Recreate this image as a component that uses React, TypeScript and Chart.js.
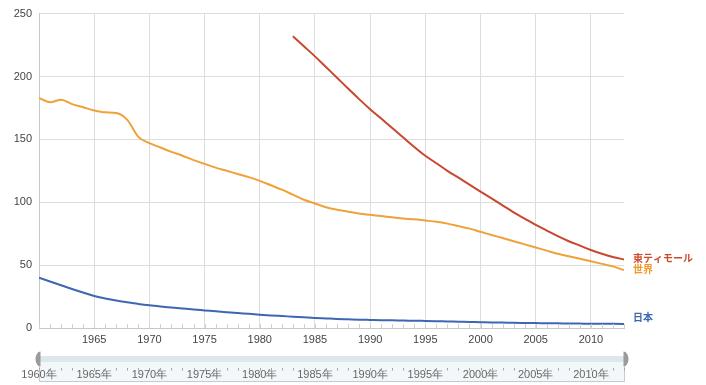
import { useEffect, useRef } from "react";
import { Chart, registerables } from "chart.js";

Chart.register(...registerables);

const years = [
  1960, 1961, 1962, 1963, 1964, 1965, 1966, 1967, 1968, 1969,
  1970, 1971, 1972, 1973, 1974, 1975, 1976, 1977, 1978, 1979,
  1980, 1981, 1982, 1983, 1984, 1985, 1986, 1987, 1988, 1989,
  1990, 1991, 1992, 1993, 1994, 1995, 1996, 1997, 1998, 1999,
  2000, 2001, 2002, 2003, 2004, 2005, 2006, 2007, 2008, 2009,
  2010, 2011, 2012, 2013,
];

const timorLeste = [
  null, null, null, null, null, null, null, null, null, null,
  null, null, null, null, null, null, null, null, null, null,
  null, null, null, 232, 224, 216, 207.5, 199, 190.5, 182,
  174, 166.5, 159, 151.5, 144, 137, 131, 125, 119.5, 114,
  108.5, 103, 97.5, 92, 87, 82, 77.5, 73, 69, 65.5,
  62, 59, 56.5, 54.5,
];

const world = [
  183, 179.5, 181.5, 178, 175.5, 173, 171.5, 171, 165.5, 152,
  147, 143.5, 140, 137, 133.5, 130.5, 127.5, 125, 122.5, 120,
  117, 113.5, 110, 106, 102, 99, 96, 94, 92.5, 91,
  90, 89, 88, 87, 86.5, 85.5, 84.5, 83, 81, 79,
  76.5, 74, 71.5, 69, 66.5, 64, 61.5, 59, 57, 55,
  53, 51, 49, 46,
];

const japan = [
  40, 37, 34, 31, 28.2, 25.5, 23.5, 21.8, 20.4, 19.1,
  18, 17.1, 16.3, 15.5, 14.7, 14, 13.3, 12.6, 11.9, 11.3,
  10.6, 10, 9.5, 9, 8.5, 8, 7.6, 7.2, 6.9, 6.6,
  6.4, 6.2, 6.1, 5.9, 5.8, 5.6, 5.4, 5.2, 5, 4.8,
  4.6, 4.4, 4.3, 4.1, 4, 3.9, 3.8, 3.7, 3.6, 3.5,
  3.4, 3.4, 3.3, 3.2,
];

const seriesNames = ["東ティモール", "世界", "日本"];
const lineColors = ["#c9472f", "#efa13a", "#3e66b3"];
const labelColors = ["#cf4a2c", "#f09a28", "#3d66b3"];
const xTickValues = [1965, 1970, 1975, 1980, 1985, 1990, 1995, 2000, 2005, 2010];
const sliderLabels = [1960, 1965, 1970, 1975, 1980, 1985, 1990, 1995, 2000, 2005, 2010];
const yearSuffix = "年";

const FONT = "'Liberation Sans', Arial, sans-serif";

const overlayPlugin = {
  id: "overlay",
  afterDatasetsDraw(chart: any) {
    const { ctx, chartArea } = chart;
    const xs = chart.scales.x;
    const ys = chart.scales.y;
    ctx.save();
    // minor ticks each year along the bottom, inside plot
    ctx.strokeStyle = "#d0d0d0";
    ctx.lineWidth = 1;
    for (const yr of years) {
      const x = Math.round(xs.getPixelForValue(yr)) + 0.5;
      ctx.beginPath();
      ctx.moveTo(x, chartArea.bottom - 4);
      ctx.lineTo(x, chartArea.bottom);
      ctx.stroke();
    }
    // end labels
    ctx.font = `bold 10px 'Noto Sans CJK JP', sans-serif`;
    ctx.textBaseline = "middle";
    ctx.textAlign = "left";
    chart.data.datasets.forEach((ds: any, i: number) => {
      const data = ds.data;
      const last = data[data.length - 1];
      let y = ys.getPixelForValue(last.y);
      y = Math.min(y, chartArea.bottom - 10);
      ctx.fillStyle = labelColors[i];
      ctx.fillText(seriesNames[i], chartArea.right + 9, y - 1);
    });
    // slider
    const left = Math.round(xs.getPixelForValue(1960)) + 0.5;
    const right = Math.round(xs.getPixelForValue(2013)) + 0.5;
    const top = 356;
    const bottom = 381.5;
    ctx.fillStyle = "#f2f7fa";
    ctx.fillRect(left, top, right - left, bottom - top);
    ctx.fillStyle = "#dde7ee";
    ctx.fillRect(left, top, right - left, 6);
    ctx.strokeStyle = "#c4ccd2";
    ctx.beginPath();
    ctx.moveTo(left, top);
    ctx.lineTo(left, bottom);
    ctx.lineTo(right, bottom);
    ctx.lineTo(right, top);
    ctx.stroke();
    // year ticks in slider
    ctx.strokeStyle = "#a0a6ac";
    for (const yr of years) {
      const x = Math.round(xs.getPixelForValue(yr)) + 0.5;
      ctx.beginPath();
      ctx.moveTo(x, 368);
      ctx.lineTo(x, 370.5);
      ctx.stroke();
    }
    ctx.font = `11px ${FONT}`;
    ctx.fillStyle = "#666666";
    ctx.textAlign = "center";
    ctx.textBaseline = "middle";
    for (const yr of sliderLabels) {
      ctx.fillText(`${yr}${yearSuffix}`, xs.getPixelForValue(yr), 374.5);
    }
    // handles
    ctx.fillStyle = "#9a9a9a";
    ctx.beginPath();
    ctx.ellipse(left + 1, 359, 5, 7.5, 0, Math.PI / 2, (Math.PI * 3) / 2);
    ctx.closePath();
    ctx.fill();
    ctx.beginPath();
    ctx.ellipse(right - 1, 359, 5, 7.5, 0, -Math.PI / 2, Math.PI / 2);
    ctx.closePath();
    ctx.fill();
    ctx.restore();
  },
};

export default function App() {
  const ref = useRef<HTMLCanvasElement | null>(null);
  useEffect(() => {
    if (!ref.current) return;
    const mk = (arr: (number | null)[]) => years.map((yr, i) => ({ x: yr, y: arr[i] }));
    const common = { borderWidth: 2, pointRadius: 0, cubicInterpolationMode: "monotone", spanGaps: false };
    const chart = new Chart(ref.current, {
      type: "line",
      data: {
        datasets: [
          { label: seriesNames[0], data: mk(timorLeste), borderColor: lineColors[0], ...common },
          { label: seriesNames[1], data: mk(world), borderColor: lineColors[1], ...common },
          { label: seriesNames[2], data: mk(japan), borderColor: lineColors[2], ...common },
        ],
      },
      options: {
        animation: false,
        responsive: false,
        maintainAspectRatio: false,
        layout: { padding: { top: 7, right: 82, left: 0, bottom: 0 } },
        plugins: { legend: { display: false }, tooltip: { enabled: false } },
        scales: {
          x: {
            type: "linear",
            min: 1960,
            max: 2013,
            afterBuildTicks: (scale: any) => {
              scale.ticks = xTickValues.map((v) => ({ value: v }));
            },
            afterFit: (scale: any) => {
              scale.height = 57;
            },
            grid: { color: "#dddddd", drawTicks: false },
            border: { color: "#c8c8c8" },
            ticks: {
              padding: 5,
              color: "#444444",
              font: { family: FONT, size: 11 },
              maxRotation: 0,
              callback: (v: any) => String(v),
            },
          },
          y: {
            min: 0,
            max: 250,
            afterFit: (scale: any) => {
              scale.width = 39;
            },
            grid: { color: "#dddddd", drawTicks: false },
            border: { color: "#c8c8c8" },
            ticks: {
              stepSize: 50,
              padding: 7,
              color: "#444444",
              font: { family: FONT, size: 11 },
            },
          },
        },
      },
      plugins: [overlayPlugin],
    } as any);
    return () => chart.destroy();
  }, []);
  return (
    <div style={{ position: "fixed", left: 0, top: 0, width: 706, height: 385, background: "#fff" }}>
      <canvas ref={ref} width={706} height={385} />
    </div>
  );
}
